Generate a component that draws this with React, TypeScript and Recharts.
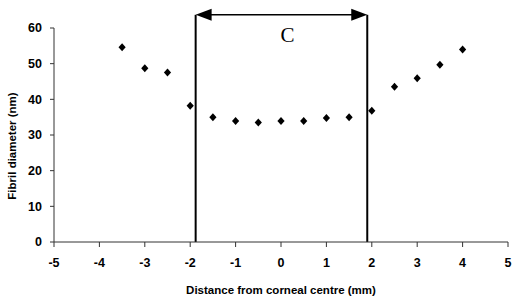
import React from "react";
import {
  ScatterChart,
  Scatter,
  XAxis,
  YAxis,
  ReferenceLine,
  Label,
} from "recharts";

// distance from corneal centre (mm)
const distances = [-3.5, -3, -2.5, -2, -1.5, -1, -0.5, 0, 0.5, 1, 1.5, 2, 2.5, 3, 3.5, 4];
// fibril diameter (nm)
const diameters = [54.6, 48.7, 47.5, 38.2, 35.0, 33.9, 33.5, 33.9, 33.9, 34.8, 35.0, 36.8, 43.5, 45.9, 49.7, 54.0];

const xTicks = [-5, -4, -3, -2, -1, 0, 1, 2, 3, 4, 5];
const yTicks = [0, 10, 20, 30, 40, 50, 60];

// boundaries of region C and the height of the arrow above the plot
const regionC = [-1.88, 1.9];
const arrowLevel = 63.7;
const regionLabel = "C";

const points = distances.map((d, i) => ({ x: d, y: diameters[i] }));

const tickStyle = {
  fontSize: 12.5,
  fontWeight: 700,
  fill: "#000",
  fontFamily: "Liberation Sans, Arial, sans-serif",
};

const Diamond = ({ cx, cy }: any) => (
  <polygon
    points={`${cx},${cy - 4} ${cx + 3.6},${cy} ${cx},${cy + 4} ${cx - 3.6},${cy}`}
    fill="#000"
  />
);

const ArrowShape = (props: any) => {
  const { x1, y1, x2 } = props;
  const len = 16;
  const half = 6;
  return (
    <g>
      <line x1={x1 + 4} y1={y1} x2={x2 - 4} y2={y1} stroke="#000" strokeWidth={1.5} />
      <polygon points={`${x1},${y1} ${x1 + len},${y1 - half} ${x1 + len},${y1 + half}`} fill="#000" />
      <polygon points={`${x2},${y1} ${x2 - len},${y1 - half} ${x2 - len},${y1 + half}`} fill="#000" />
      <text
        x={(x1 + x2) / 2 + 6}
        y={y1 + 27}
        textAnchor="middle"
        fontSize={21}
        fontFamily="Liberation Serif, Times New Roman, serif"
        fill="#000"
      >
        {regionLabel}
      </text>
    </g>
  );
};

export default function App() {
  return (
    <div style={{ position: "absolute", left: 0, top: 0, background: "#fff" }}>
      <ScatterChart
        width={514}
        height={300}
        margin={{ top: 28, right: 6, bottom: 0, left: 0 }}
      >
        <XAxis
          type="number"
          dataKey="x"
          domain={[-5, 5]}
          ticks={xTicks}
          interval={0}
          tick={tickStyle}
          tickSize={5}
          tickMargin={11}
          stroke="#333"
          height={58}
        >
          <Label
            value="Distance from corneal centre (mm)"
            position="insideBottom"
            offset={6}
            style={{
              fontSize: 11.5,
              fontWeight: 700,
              fill: "#000",
              fontFamily: "Liberation Sans, Arial, sans-serif",
            }}
          />
        </XAxis>
        <YAxis
          type="number"
          dataKey="y"
          domain={[0, 60]}
          ticks={yTicks}
          interval={0}
          tick={tickStyle}
          tickSize={4}
          tickMargin={8}
          stroke="#333"
          width={54}
        >
          <Label
            content={({ viewBox }: any) => {
              const cx = 12;
              const cy = viewBox.y + viewBox.height / 2 + 11;
              return (
                <text
                  x={cx}
                  y={cy}
                  transform={`rotate(-90 ${cx} ${cy})`}
                  textAnchor="middle"
                  dominantBaseline="central"
                  fontSize={11.5}
                  fontWeight={700}
                  fontFamily="Liberation Sans, Arial, sans-serif"
                  fill="#000"
                >
                  Fibril diameter (nm)
                </text>
              );
            }}
          />
        </YAxis>
        {regionC.map((c) => (
          <ReferenceLine
            key={c}
            segment={[
              { x: c, y: 0 },
              { x: c, y: arrowLevel },
            ]}
            ifOverflow="visible"
            stroke="#000"
            strokeWidth={2}
          />
        ))}
        <ReferenceLine
          segment={[
            { x: regionC[0], y: arrowLevel },
            { x: regionC[1], y: arrowLevel },
          ]}
          ifOverflow="visible"
          shape={<ArrowShape />}
        />
        <Scatter data={points} shape={<Diamond />} isAnimationActive={false} />
      </ScatterChart>
    </div>
  );
}
